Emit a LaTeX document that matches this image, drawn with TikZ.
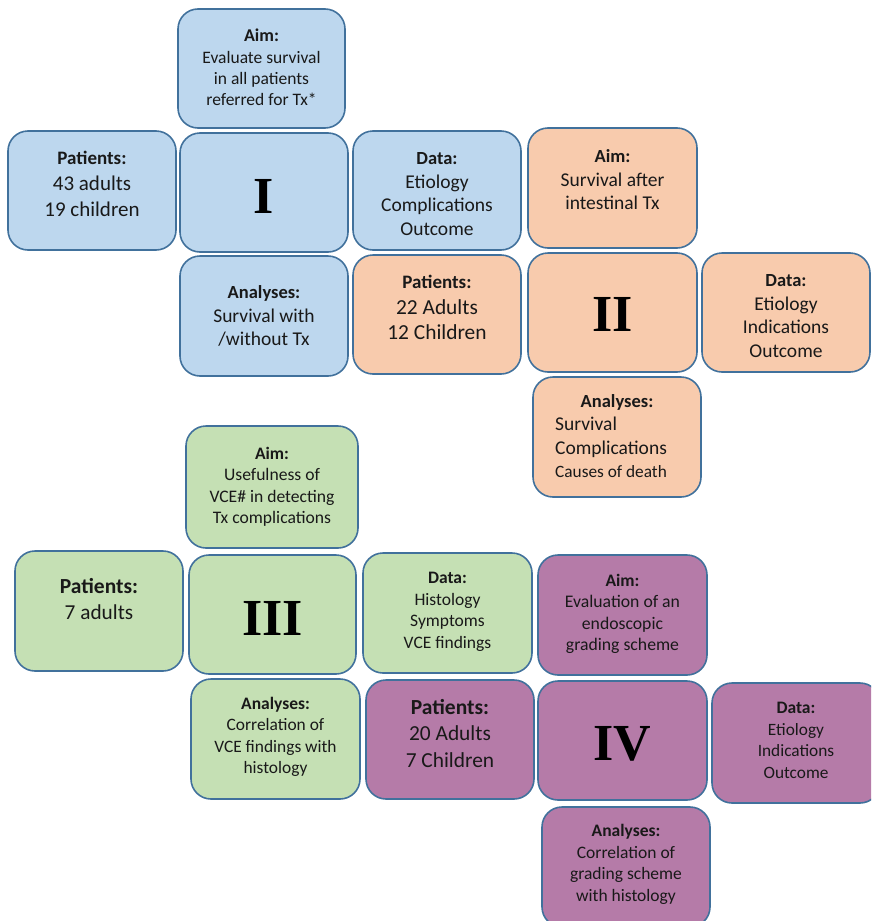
\documentclass[tikz,border=0pt]{standalone}
\usepackage{fontspec}
\setmainfont{Carlito}
\newfontfamily\numfont{Liberation Serif}
\definecolor{bfill}{HTML}{BDD7EE}
\definecolor{ofill}{HTML}{F8CBAD}
\definecolor{gfill}{HTML}{C5E0B4}
\definecolor{pfill}{HTML}{B57BA8}
\definecolor{bord}{HTML}{41719C}
\newcommand\fsz[2]{\fontsize{#1}{#2}\selectfont}
\newcommand\hd[2]{{\fontsize{#1}{#1}\selectfont\bfseries #2}}
\newcommand\mkbox[6]{\node[cardbox,fill=#6,minimum width={(#4-#2)*1pt},minimum height={(#5-#3)*1pt}] (#1) at ({(#2+#4)/2},{(#3+#5)/2}) {};}
\begin{document}
\begin{tikzpicture}[x=1pt,y=-1pt,
  cardbox/.style={draw=bord,line width=1.6pt,rounded corners=20pt,inner sep=0pt,outer sep=0pt},
  txt/.style={align=center,inner sep=0pt,text=black!90},
  numtxt/.style={inner sep=0pt,font=\numfont\bfseries\fontsize{52}{52}\selectfont}]
\useasboundingbox (0,0) rectangle (871,921);
\clip (0,0) rectangle (871,921);
% ---------- Study I (blue)
\mkbox{aimA}{178}{9}{345}{128}{bfill}
\mkbox{patA}{8}{131}{176}{250}{bfill}
\mkbox{numA}{180}{133}{348}{252}{bfill}
\mkbox{datA}{353}{131}{521}{250}{bfill}
\mkbox{anaA}{180}{256}{348}{376}{bfill}
\node[txt,font=\fsz{17.5}{21.3}] (aimAt) at ([yshift=1pt]aimA.center) {\hd{18}{Aim:}\\Evaluate survival\\in all patients\\referred for Tx*};
\node[txt,font=\fsz{21}{26}] (patAt) at ([yshift=7pt]patA.center) {\hd{19}{Patients:}\\43 adults\\19 children};
\node[numtxt] (numAt) at ([yshift=-3.5pt]numA.center) {I};
\node[txt,font=\fsz{19.5}{23.5}] (datAt) at ([yshift=-3.5pt]datA.center) {\hd{18.5}{Data:}\\Etiology\\Complications\\Outcome};
\node[txt,font=\fsz{19.5}{23.5}] (anaAt) at ([yshift=0pt]anaA.center) {\hd{18.5}{Analyses:}\\Survival with\\/without Tx};
% ---------- Study II (orange)
\mkbox{aimB}{528}{128}{697}{248}{ofill}
\mkbox{patB}{353}{255}{521}{374}{ofill}
\mkbox{numB}{528}{253}{697}{372}{ofill}
\mkbox{datB}{702}{253}{870}{372}{ofill}
\mkbox{anaB}{533}{377}{701}{497}{ofill}
\node[txt,font=\fsz{19.5}{23.5}] (aimBt) at ([yshift=8pt]aimB.center) {\hd{18.5}{Aim:}\\Survival after\\intestinal Tx};
\node[txt,font=\fsz{21.4}{25.5}] (patBt) at ([yshift=7pt]patB.center) {\hd{19}{Patients:}\\22 Adults\\12 Children};
\node[numtxt] (numBt) at ([yshift=-2pt]numB.center) {II};
\node[txt,font=\fsz{19.5}{23.5}] (datBt) at ([yshift=-3.5pt]datB.center) {\hd{18.5}{Data:}\\Etiology\\Indications\\Outcome};
\node[txt,font=\fsz{19.5}{23.5},anchor=north] (anaBh) at ([yshift=-17pt]anaB.north) {\hd{18.5}{Analyses:}};
\node[txt,font=\fsz{19.5}{23.5},align=left,anchor=north west] (anaBt) at (555,{377+40}) {Survival\\Complications\\{\fontsize{17.3}{17.3}\selectfont Causes of death}};
% ---------- Study III (green)
\mkbox{aimC}{186}{426}{358}{548}{gfill}
\mkbox{patC}{15}{551}{183}{671}{gfill}
\mkbox{numC}{189}{555}{356}{674}{gfill}
\mkbox{datC}{363}{553}{532}{673}{gfill}
\mkbox{anaC}{191}{679}{360}{799}{gfill}
\node[txt,font=\fsz{17.6}{21.5}] (aimCt) at ([yshift=0pt]aimC.center) {\hd{17.5}{Aim:}\\Usefulness of\\VCE\# in detecting\\Tx complications};
\node[txt,font=\fsz{21.3}{25.5}] (patCt) at ([yshift=12pt]patC.center) {\hd{21.5}{Patients:}\\7 adults};
\node[numtxt] (numCt) at ([yshift=-4pt]numC.center) {III};
\node[txt,font=\fsz{17.5}{21.5}] (datCt) at ([yshift=1pt]datC.center) {\hd{17.5}{Data:}\\Histology\\Symptoms\\VCE findings};
\node[txt,font=\fsz{17.4}{21.5}] (anaCt) at ([yshift=2pt]anaC.center) {\hd{17.5}{Analyses:}\\Correlation of\\VCE findings with\\histology};
% ---------- Study IV (purple)
\mkbox{aimD}{538}{555}{707}{675}{pfill}
\mkbox{patD}{366}{680}{534}{799}{pfill}
\mkbox{numD}{538}{681}{707}{800}{pfill}
\mkbox{datD}{712}{683}{880}{803}{pfill}
\mkbox{anaD}{542}{807}{710}{927}{pfill}
\node[txt,font=\fsz{17.7}{21.5}] (aimDt) at ([yshift=1pt]aimD.center) {\hd{17.5}{Aim:}\\Evaluation of an\\endoscopic\\grading scheme};
\node[txt,font=\fsz{21.4}{26.5}] (patDt) at ([yshift=6pt]patD.center) {\hd{21.5}{Patients:}\\20 Adults\\7 Children};
\node[numtxt] (numDt) at ([yshift=-3pt]numD.center) {IV};
\node[txt,font=\fsz{17.3}{21.5}] (datDt) at ([yshift=2.5pt]datD.center) {\hd{17.5}{Data:}\\Etiology\\Indications\\Outcome};
\node[txt,font=\fsz{17.5}{21.5}] (anaDt) at ([yshift=2.5pt]anaD.center) {\hd{17.5}{Analyses:}\\Correlation of\\grading scheme\\with histology};
\end{tikzpicture}
\end{document}
